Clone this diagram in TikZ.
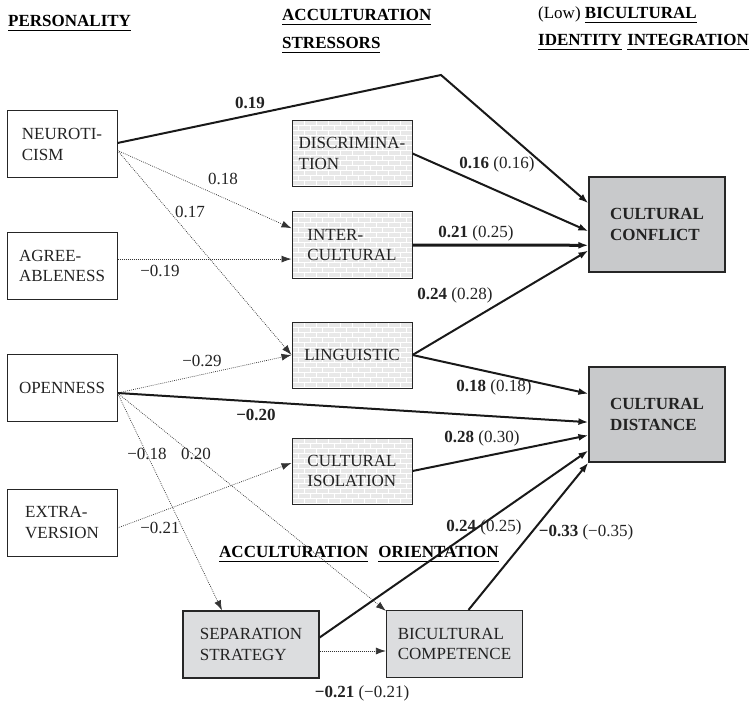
\documentclass[tikz,border=0pt]{standalone}
\usepackage{fontspec}
\setmainfont{Liberation Serif}
\usetikzlibrary{arrows.meta,calc}
\definecolor{outgray}{HTML}{C8C9CB}
\definecolor{orgray}{HTML}{DCDDDF}
\definecolor{brickbg}{HTML}{E8E8E8}
\definecolor{txt}{HTML}{222222}
\newcommand\myul[1]{\setbox0\hbox{#1}\rlap{\rule[-4pt]{\wd0}{0.9pt}}\box0}
\tikzset{bricks/.style={path picture={
  \foreach \r in {0,...,14}{
    \pgfmathsetmacro\off{mod(\r,2)*6}
    \draw[white, line width=0.9pt] ([yshift=-\r*5pt]path picture bounding box.north west) -- ++(200,0);
    \foreach \c in {0,...,10}{
      \draw[white, line width=0.9pt] ([xshift=\c*12pt+\off pt,yshift=-\r*5pt]path picture bounding box.north west) -- ++(0,5);
    }
  }}}}
\begin{document}
\begin{tikzpicture}[x=1pt,y=-1pt,
  every node/.style={font=\fontsize{17}{20.5}\selectfont, text=txt},
  perbox/.style={draw=black!85, line width=1pt, minimum width=110pt, minimum height=67pt, align=left, inner sep=0pt},
  strbox/.style={perbox, minimum width=120pt, minimum height=66pt, fill=brickbg, bricks},
  outbox/.style={draw=black!85, line width=1.2pt, fill=outgray, minimum width=136pt, minimum height=95pt, align=left, inner sep=0pt, font=\fontsize{17}{20.5}\selectfont\bfseries},
  oribox/.style={draw=black!85, line width=1.2pt, fill=orgray, minimum width=136pt, minimum height=67pt, align=left, inner sep=0pt},
  strong/.style={line width=2pt, draw=black!90, -{Latex[length=10pt,width=7pt]}},
  weak/.style={line width=0.7pt, draw=black!80, dash pattern=on 0.8pt off 1.2pt, -{Latex[length=10pt,width=7pt]}},
  lab/.style={inner sep=0pt},
  blab/.style={inner sep=0pt, font=\fontsize{17}{20.5}\selectfont\bfseries},
  head/.style={inner sep=0pt, anchor=base west, text=black, font=\fontsize{17}{20.5}\selectfont\bfseries},
]
\useasboundingbox (0,0) rectangle (751,703);

% headings
\node[head] (h1) at (8,27) {\myul{PERSONALITY}};
\node[head] (h2) at (282,21) {\myul{ACCULTURATION}};
\node[head] (h3) at (282,49) {\myul{STRESSORS}};
\node[head, anchor=base east] (h5) at (749,46) {\myul{IDENTITY}\hspace{5pt}\myul{INTEGRATION}};
\node[head] (h4) at ([yshift=27pt]h5.base west) {{\mdseries (Low)} \myul{BICULTURAL}};
\node[head] (h6) at (219,557.5) {\myul{ACCULTURATION}\hspace{10pt}\myul{ORIENTATION}};

% boxes
\node[perbox] (neu) at (62,144.5) {NEUROTI-\\CISM};
\node[perbox] (agr) at (62,266) {AGREE-\\ABLENESS};
\node[perbox] (ope) at (62,388) {OPENNESS};
\node[perbox] (ext) at (62,522.5) {EXTRA-\\VERSION};
\node[strbox] (dis) at (352,153.5) {DISCRIMINA-\\TION};
\node[strbox] (int) at (352,245) {INTER-\\CULTURAL};
\node[strbox] (lin) at (352,355) {LINGUISTIC};
\node[strbox] (iso) at (352,471) {CULTURAL\\ISOLATION};
\node[outbox] (cc) at (657,224.5) {CULTURAL\\CONFLICT};
\node[outbox] (cd) at (657,414.5) {CULTURAL\\DISTANCE};
\node[oribox] (sep) at (251,644.5) {SEPARATION\\STRATEGY};
\node[oribox] (bic) at (454.5,644) {BICULTURAL\\COMPETENCE};

% strong paths
\coordinate (nc) at (441,75);
\draw[strong] ([yshift=1.5pt]neu.east) -- (nc) -- ($(cc.north west)!0.28!(cc.south west)$);
\draw[strong] (dis.east) -- ($(cc.north west)!0.57!(cc.south west)$);
\draw[strong, line width=3pt] (int.east) -- ($(cc.north west)!0.716!(cc.south west)$);
\draw[strong] (lin.east) -- ($(cc.north west)!0.77!(cc.south west)$);
\draw[strong] (lin.east) -- ($(cd.north west)!0.284!(cd.south west)$);
\draw[strong] ([yshift=-5pt]ope.east) -- ($(cd.north west)!0.58!(cd.south west)$);
\draw[strong] (iso.east) -- ($(cd.north west)!0.716!(cd.south west)$);
\draw[strong] ([yshift=7pt]sep.east) -- ($(cd.north west)!0.874!(cd.south west)$);
\draw[strong] ([xshift=14pt]bic.north) -- (cd.south west);

% weak paths
\draw[weak] ([yshift=-6pt]neu.east) -- ($(int.north west)!0.25!(int.south west)$);
\draw[weak] ([yshift=-6pt]neu.east) -- (lin.west);
\coordinate (ia) at ($(int.north west)!0.71!(int.south west)$);
\draw[weak] (agr.east |- ia) -- (ia);
\draw[weak] ([yshift=-5pt]ope.east) -- (lin.west);
\draw[weak] ([yshift=-5pt]ope.east) -- ([xshift=-29pt]sep.north);
\draw[weak] ([yshift=-5pt]ope.east) -- ([yshift=-1pt]bic.north west);
\draw[weak] ([yshift=-5.5pt]ext.east) -- ($(iso.north west)!0.38!(iso.south west)$);
\draw[weak] ([yshift=-6.5pt]sep.east) -- ([yshift=-6.5pt]sep.east -| bic.west);

% labels
\node[blab] (l1) at (250,103) {0.19};
\node[lab] (l2) at (223,179) {0.18};
\node[lab] (l3) at (190,212) {0.17};
\node[lab] (l4) at (160,271) {−0.19};
\node[lab] (l5) at (202,361) {−0.29};
\node[blab] (l6) at (256,415) {−0.20};
\node[lab] (l7) at (147,454) {−0.18};
\node[lab] (l8) at (196,454) {0.20};
\node[lab] (l9) at (160,528) {−0.21};
\node[lab] (l10) at (497,164) {\textbf{0.16} (0.16)};
\node[lab] (l11) at (476,233) {\textbf{0.21} (0.25)};
\node[lab] (l12) at (455,295) {\textbf{0.24} (0.28)};
\node[lab] (l13) at (494,387) {\textbf{0.18} (0.18)};
\node[lab] (l14) at (482,438) {\textbf{0.28} (0.30)};
\node[lab] (l15) at (484,527) {\textbf{0.24} (0.25)};
\node[lab] (l16) at (586,532) {\textbf{−0.33} (−0.35)};
\node[lab] (l17) at (362,693) {\textbf{−0.21} (−0.21)};
\end{tikzpicture}
\end{document}
